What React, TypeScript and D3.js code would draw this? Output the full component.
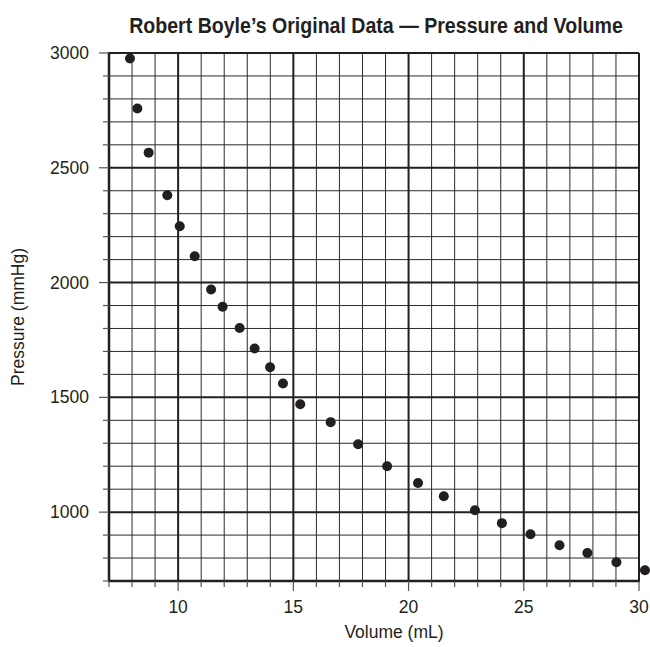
import React from 'react';
import { scaleLinear, range } from 'd3';

// Boyle's readings
const volumes = [7.91, 8.23, 8.72, 9.53, 10.07, 10.72, 11.43, 11.93, 12.67, 13.32, 13.99, 14.55, 15.3, 16.62, 17.81, 19.07, 20.41, 21.53, 22.88, 24.05, 25.29, 26.55, 27.76, 29.02, 30.26];
const pressures = [2976, 2758, 2566, 2380, 2245, 2115, 1970, 1895, 1802, 1713, 1631, 1560, 1470, 1392, 1296, 1200, 1127, 1069, 1008, 952, 904, 856, 822, 782, 747];

const xTickLabels = [10, 15, 20, 25, 30];
const yTickLabels = [1000, 1500, 2000, 2500, 3000];

const W = 650;
const H = 647;
const margin = { top: 53, right: 11, bottom: 66, left: 109 };

export default function App() {
  const x = scaleLinear().domain([7, 30]).range([margin.left, W - margin.right]);
  const y = scaleLinear().domain([700, 3000]).range([H - margin.bottom, margin.top]);

  const [x0, x1] = x.range();
  const [y0, y1] = y.range(); // y0 bottom, y1 top

  const xMinor = range(7, 31, 1);
  const yMinor = range(700, 3001, 100);

  const font = '"Liberation Sans", Arial, Helvetica, sans-serif';
  const ink = '#231f20';

  return (
    <svg width={W} height={H} style={{ position: 'absolute', left: 0, top: 0, background: '#fff' }}>
      {/* title - squeezed horizontally for the condensed look */}
      <g transform={`translate(${(x0 + x1) / 2 + 2}, 33) scale(0.89, 1)`}>
        <text
          textAnchor="middle"
          fontFamily={font}
          fontWeight="bold"
          fontSize={22}
          fill={ink}
        >
          Robert Boyle’s Original Data — Pressure and Volume
        </text>
      </g>

      {/* minor grid */}
      <g stroke="#2b2b2b" strokeWidth={1}>
        {xMinor.filter(v => v % 5 !== 0).map(v => (
          <line key={'vx' + v} x1={x(v)} x2={x(v)} y1={y1} y2={y0} />
        ))}
        {yMinor.filter(v => v % 500 !== 0).map(v => (
          <line key={'hy' + v} x1={x0} x2={x1} y1={y(v)} y2={y(v)} />
        ))}
      </g>

      {/* major grid */}
      <g stroke={ink} strokeWidth={2}>
        {xTickLabels.map(v => (
          <line key={'VX' + v} x1={x(v)} x2={x(v)} y1={y1} y2={y0} />
        ))}
        {yTickLabels.map(v => (
          <line key={'HY' + v} x1={x0} x2={x1} y1={y(v)} y2={y(v)} />
        ))}
      </g>

      {/* axes frame */}
      <line x1={x0} x2={x0} y1={y1 - 1} y2={y0 + 1} stroke={ink} strokeWidth={2.5} />
      <line x1={x0 - 1} x2={x1 + 1} y1={y0} y2={y0} stroke={ink} strokeWidth={2.5} />

      {/* ticks */}
      <g stroke="#555" strokeWidth={1.2}>
        {yMinor.map(v => (
          <line key={'ty' + v} x1={x0 - (v % 500 === 0 ? 10 : 6)} x2={x0} y1={y(v)} y2={y(v)} />
        ))}
        {xMinor.map(v => (
          <line key={'tx' + v} x1={x(v)} x2={x(v)} y1={y0} y2={y0 + (v % 5 === 0 ? 10 : 6)} />
        ))}
      </g>

      {/* tick labels */}
      <g fontFamily={font} fontSize={17.5} fill={ink}>
        {yTickLabels.map(v => (
          <text key={'ly' + v} x={x0 - 20} y={y(v)} dy="0.35em" textAnchor="end">
            {v}
          </text>
        ))}
        {xTickLabels.map(v => (
          <text key={'lx' + v} x={x(v)} y={y0 + 32} textAnchor="middle">
            {v}
          </text>
        ))}
      </g>

      {/* axis titles */}
      <text x={394} y={H - 9} textAnchor="middle" fontFamily={font} fontSize={17.5} fill={ink}>
        Volume (mL)
      </text>
      <text
        transform={`translate(24, ${(y0 + y1) / 2}) rotate(-90)`}
        textAnchor="middle"
        fontFamily={font}
        fontSize={17.5}
        fill={ink}
      >
        Pressure (mmHg)
      </text>

      {/* data */}
      <g fill={ink}>
        {volumes.map((v, i) => (
          <circle key={i} cx={x(v)} cy={y(pressures[i])} r={5} />
        ))}
      </g>
    </svg>
  );
}
